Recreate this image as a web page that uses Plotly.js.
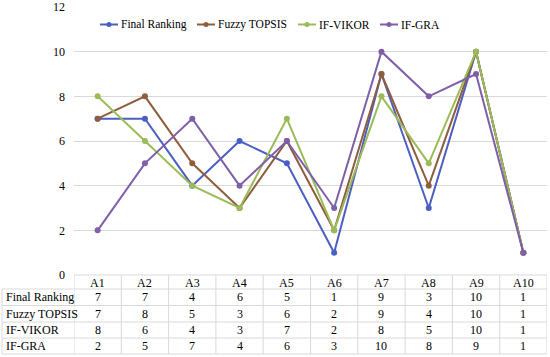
<!DOCTYPE html>
<html>
<head>
<meta charset="utf-8">
<script src="https://cdn.plot.ly/plotly-3.0.1.min.js"></script>
<style>html,body{margin:0;padding:0;background:#fff;}#chart{width:550px;height:357px;}</style>
</head>
<body>
<div id="chart"></div>
<script>
const categories = ["A1","A2","A3","A4","A5","A6","A7","A8","A9","A10"];
const seriesNames = ["Final Ranking","Fuzzy TOPSIS","IF-VIKOR","IF-GRA"];
const finalRanking = [7,7,4,6,5,1,9,3,10,1];
const fuzzyTopsis  = [7,8,5,3,6,2,9,4,10,1];
const ifVikor      = [8,6,4,3,7,2,8,5,10,1];
const ifGra        = [2,5,7,4,6,3,10,8,9,1];
const seriesValues = [finalRanking, fuzzyTopsis, ifVikor, ifGra];
const colors = ["#4A5FC1","#8E5D3D","#9BBB59","#7F5FA8"];

const W = 550, H = 357, L = 74, R = 3, T = 7, B = 82;
const plotH = H - T - B, plotW = W - L - R;
const FONT = "Liberation Serif";
const py = px => (H - B - px) / plotH; // pixel y -> paper y
const pxx = px => (px - L) / plotW;    // pixel x -> paper x

const traces = seriesValues.map((vals, i) => ({
  type: "scatter", mode: "lines+markers",
  name: seriesNames[i], x: categories, y: vals,
  line: {color: colors[i], width: 2},
  marker: {color: colors[i], size: 6},
  showlegend: false
}));

const shapes = [];
const annotations = [];
const txtFont = {family: FONT, size: 12, color: "#000"};
const legFont = {family: FONT, size: 11.5, color: "#000"};

// custom legend (symbol + text)
const legendX = [100, 197, 298, 380];
const legendY = 24.5;
seriesNames.forEach((n, i) => {
  const x0 = legendX[i];
  shapes.push({type:"line", xref:"paper", yref:"paper", x0:pxx(x0), x1:pxx(x0+18), y0:py(legendY), y1:py(legendY),
    line:{color:colors[i], width:2}});
  shapes.push({type:"circle", xref:"paper", yref:"paper", x0:pxx(x0+6.5), x1:pxx(x0+11.5), y0:py(legendY+2.5), y1:py(legendY-2.5),
    fillcolor:colors[i], line:{color:colors[i], width:0}});
  annotations.push({xref:"paper", yref:"paper", x:pxx(x0+19), y:py(legendY), text:n, showarrow:false,
    font:legFont, xanchor:"left", yanchor:"middle"});
});

// table geometry (pixels)
const headerTop = H - B, headerBot = 289;
const rowBounds = [289, 305.5, 322, 338, 354];
const lineStyle = {color: "#d9d9d9", width: 1};
shapes.push({type:"line", xref:"paper", yref:"paper", x0:0, x1:1, y0:py(headerTop), y1:py(headerTop), line:lineStyle});
rowBounds.forEach(y => shapes.push({type:"line", xref:"paper", yref:"paper", x0:pxx(2), x1:1, y0:py(y), y1:py(y), line:lineStyle}));
for (let i = 0; i <= categories.length; i++) {
  shapes.push({type:"line", xref:"x", yref:"paper", x0:i-0.5, x1:i-0.5, y0:py(headerTop), y1:py(354), line:lineStyle});
}
shapes.push({type:"line", xref:"paper", yref:"paper", x0:pxx(2), x1:pxx(2), y0:py(289), y1:py(354), line:lineStyle});

categories.forEach((c, j) => {
  annotations.push({xref:"x", yref:"paper", x:j, y:py((headerTop+headerBot)/2 + 0.5), text:c, showarrow:false,
    font:txtFont, xanchor:"center", yanchor:"middle"});
});
seriesValues.forEach((vals, i) => {
  const yc = (rowBounds[i] + rowBounds[i+1]) / 2;
  annotations.push({xref:"paper", yref:"paper", x:pxx(4), y:py(yc), text:seriesNames[i], showarrow:false,
    font:txtFont, xanchor:"left", yanchor:"middle"});
  vals.forEach((v, j) => {
    annotations.push({xref:"x", yref:"paper", x:j, y:py(yc), text:String(v), showarrow:false,
      font:txtFont, xanchor:"center", yanchor:"middle"});
  });
});

const layout = {
  width: W, height: H,
  margin: {l: L, r: R, t: T, b: B},
  paper_bgcolor: "#fff", plot_bgcolor: "#fff",
  font: {family: FONT, size: 12, color: "#000"},
  showlegend: false,
  xaxis: {type: "category", range: [-0.5, 9.5], showticklabels: false, showgrid: false, zeroline: false,
    showline: false, ticks: ""},
  yaxis: {range: [0, 12], dtick: 2, showgrid: true, gridcolor: "#d9d9d9", gridwidth: 1, zeroline: false,
    showline: false, ticks: "", ticklabelstandoff: 8, tickfont: {family: FONT, size: 12, color: "#000"}},
  shapes: shapes,
  annotations: annotations
};

Plotly.newPlot("chart", traces, layout, {displayModeBar: false, staticPlot: true});
</script>
</body>
</html>
